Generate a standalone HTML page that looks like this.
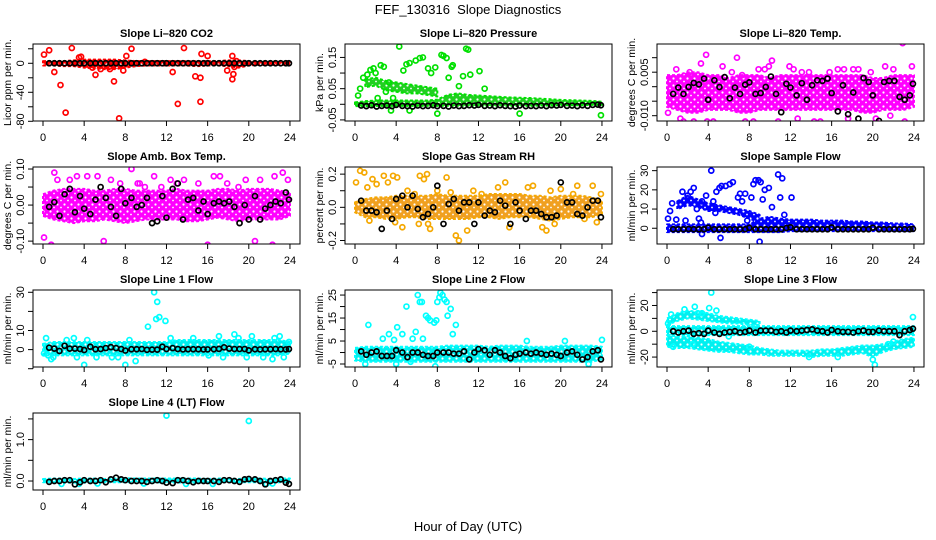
<!DOCTYPE html>
<html><head><meta charset="utf-8"><style>
html,body{margin:0;padding:0;background:#fff;}
svg{display:block;font-family:"Liberation Sans",Arial,sans-serif;}
</style></head><body>
<svg id="chart" width="936" height="540" viewBox="0 0 936 540" xmlns="http://www.w3.org/2000/svg">
<defs id="defs"></defs>
<rect x="0" y="0" width="936" height="540" fill="#fff"/>
<text x="468" y="14" font-size="13" text-anchor="middle">FEF_130316&#160; Slope Diagnostics</text>
<text x="468" y="531" font-size="13" text-anchor="middle">Hour of Day (UTC)</text>
</svg>
<script>
const bandHours=[0,1,2,3,4,5,6,7,8,9,10,11,12,13,14,15,16,17,18,19,20,21,22,23,24];
const blackHours=[0.6,1.1,1.6,2.1,2.6,3.1,3.6,4.0,4.6,5.1,5.6,6.1,6.6,7.1,7.6,8.0,8.6,9.1,9.6,10.1,10.6,11.1,11.6,12.0,12.6,13.1,13.6,14.1,14.6,15.1,15.6,16.0,16.6,17.1,17.6,18.1,18.6,19.1,19.6,20.0,20.6,21.1,21.6,22.1,22.6,23.1,23.6,23.9];
const xTicks=[0,4,8,12,16,20,24];

// CO2
const co2Lo=[-3,-3,-4,-4,-6,-7,-8,-8,-6,-4,-3,-3,-3,-3,-3,-4,-3,-3,-4,-6,-3,-2,-2,-2,-2];
const co2Hi=[3,3,3,4,5,5,5,5,4,3,3,3,3,3,3,3,3,3,4,4,3,2,2,2,2];
const co2OutX=[0.1,0.6,1.1,1.7,2.2,2.8,3.5,5.1,5.6,6.9,7.4,7.8,8.1,8.6,12.6,13.1,13.7,14.8,15.3,15.3,15.4,16.0,17.9,18.4,18.5,18.4,18.8,18.6,6.5,4.8,3.7,9.9];
const co2OutY=[12,18,-12,-30,-68,21,8,-16,-8,-25,-76,-10,10,20,-12,-56,21,-18,-20,-53,13,10,-10,-22,-15,10,3,-5,-8,-6,9,2];
const co2Blk=[0,0,0,0,0,0,0,0,0,0,0,0,0,0,0,0,0,0,0,0,0,0,0,0,0,0,0,0,0,0,0,0,0,0,0,0,0,0,0,0,0,0,0,0,0,0,0,0];

// Pressure
const prLo=[-0.006,-0.006,-0.005,-0.005,-0.005,-0.005,-0.005,-0.005,-0.005,-0.005,-0.005,-0.005,-0.005,-0.005,-0.005,-0.005,-0.005,-0.005,-0.004,-0.004,-0.003,-0.003,-0.003,-0.002,-0.002];
const prHi=[0.006,0.01,0.012,0.012,0.012,0.012,0.012,0.012,0.015,0.03,0.035,0.03,0.028,0.026,0.024,0.022,0.021,0.02,0.018,0.016,0.014,0.013,0.012,0.011,0.008];
const prLo2=[null,0.055,0.06,0.045,0.04,0.035,0.035,0.03,0.025,null,null,null,null,null,null,null,null,null,null,null,null,null,null,null,null];
const prHi2=[null,0.08,0.085,0.075,0.07,0.065,0.06,0.055,0.05,null,null,null,null,null,null,null,null,null,null,null,null,null,null,null,null];
const prOutX=[0.3,0.5,0.8,1.2,1.5,1.8,2.0,2.5,2.8,3.0,3.3,3.7,4.3,4.7,5.0,5.3,5.9,6.3,6.6,7.1,7.4,7.8,8.0,8.4,8.6,8.9,9.1,9.4,9.5,10.1,10.5,10.8,11.0,11.2,12.1,12.6,16.0,23.9,5.3,3.5,2.2];
const prOutY=[0.028,0.05,0.085,0.095,0.11,0.115,0.1,0.125,0.12,0.04,0.07,0.02,0.185,0.108,0.128,0.132,0.14,0.148,0.15,0.115,0.1,0.118,-0.03,0.158,0.155,0.148,0.085,0.12,0.125,0.058,0.09,0.178,0.175,0.095,0.106,0.05,-0.03,-0.035,-0.02,-0.02,0.02];
const prBlk=[-0.004,-0.006,-0.003,-0.007,-0.005,-0.004,-0.006,-0.002,-0.005,-0.006,-0.007,-0.004,-0.006,-0.005,-0.003,-0.006,-0.005,-0.007,-0.004,-0.006,-0.005,-0.003,-0.004,-0.002,-0.005,-0.004,-0.006,-0.003,-0.005,-0.006,-0.007,-0.004,-0.006,-0.005,-0.006,-0.004,-0.006,-0.003,-0.004,-0.002,-0.005,-0.004,-0.006,-0.003,-0.005,-0.002,-0.001,-0.003];

// Li-820 Temp
const tLo=[-0.007,-0.008,-0.009,-0.009,-0.008,-0.008,-0.008,-0.009,-0.009,-0.008,-0.008,-0.008,-0.008,-0.008,-0.008,-0.008,-0.008,-0.008,-0.008,-0.009,-0.009,-0.008,-0.008,-0.008,-0.007];
const tHi=[0.004,0.004,0.005,0.005,0.004,0.004,0.003,0.004,0.004,0.004,0.003,0.004,0.004,0.004,0.004,0.004,0.004,0.004,0.004,0.004,0.003,0.003,0.004,0.004,0.004];
const tOutX=[0.1,0.9,1.3,2.2,2.6,3.3,3.4,3.8,3.9,4.5,5.4,5.8,6.3,6.8,7.3,7.6,8.1,8.4,8.9,9.5,9.9,10.2,10.8,11.9,12.3,12.7,13.8,14.3,14.9,15.8,16.1,16.6,17.2,17.6,18.6,19.3,19.8,20.3,21.2,22.0,22.9,23.1,23.4,23.8,1.6,5.0,9.0,13.1,18.1,21.7];
const tOutY=[-0.009,0.006,-0.011,0.005,-0.012,0.008,-0.014,0.011,-0.012,-0.012,0.007,-0.013,0.005,0.01,0.004,-0.012,-0.015,-0.012,0.006,0.006,0.007,0.009,-0.012,0.007,0.006,-0.011,0.005,-0.012,-0.012,0.005,-0.015,0.006,0.006,-0.011,0.006,-0.013,0.005,-0.011,0.007,0.006,0.015,-0.012,-0.013,0.007,-0.012,-0.013,-0.013,0.005,0.006,-0.01];
const tBlk=[-0.0025,-0.0003,-0.0025,-0.0001,0.0013,0.0008,0.0028,-0.0045,0.0022,-0.0001,0.0033,-0.004,-0.0003,-0.0025,0.0007,0.0015,-0.0025,-0.0022,-0.0001,0.0035,-0.0025,-0.0088,0.001,-0.0003,-0.003,0.0012,-0.0045,0.0005,0.0022,0.002,0.0028,-0.0022,-0.0085,0.0005,-0.0095,-0.002,-0.011,0.003,0.0016,-0.003,-0.0118,0.0016,0.002,0.002,-0.0035,-0.0045,-0.003,0.001];

// Amb box temp
const aLo=[-0.03,-0.04,-0.045,-0.05,-0.045,-0.045,-0.04,-0.045,-0.05,-0.045,-0.04,-0.04,-0.04,-0.04,-0.045,-0.045,-0.04,-0.035,-0.04,-0.045,-0.04,-0.04,-0.04,-0.04,-0.03];
const aHi=[0.03,0.04,0.045,0.045,0.045,0.04,0.04,0.045,0.045,0.04,0.04,0.04,0.04,0.045,0.04,0.04,0.04,0.045,0.045,0.04,0.045,0.045,0.045,0.04,0.035];
const aOutX=[0.1,0.8,1.1,1.6,2.6,3.3,3.8,3.6,4.3,4.2,5.3,5.9,6.6,7.5,7.7,8.0,8.4,8.6,9.2,9.9,10.2,10.8,11.5,12.4,13.0,13.7,14.6,14.5,15.3,15.1,16.0,16.6,17.2,17.9,18.8,19.7,20.6,21.1,21.5,22.3,22.5,23.3,23.5,23.8,1.4,6.0,9.4,19.0];
const aOutY=[-0.09,-0.11,0.09,-0.13,0.07,0.08,-0.13,-0.17,0.08,-0.2,0.08,-0.1,0.07,0.06,-0.15,-0.17,-0.16,0.1,0.06,0.05,-0.13,0.08,0.05,0.07,0.06,0.07,-0.13,-0.2,-0.15,0.06,-0.11,0.08,0.08,0.06,-0.13,0.07,-0.1,0.07,-0.14,-0.11,0.08,0.09,-0.16,0.07,0.07,-0.12,0.06,0.05];
const aBlk=[-0.005,0.008,-0.03,0.03,0.045,-0.02,0.025,-0.01,-0.025,0.015,0.05,0.02,-0.005,-0.03,0.045,0.005,0.02,-0.005,0.0,0.02,-0.05,-0.045,0.025,-0.035,0.045,0.06,-0.04,0.015,0.02,-0.015,0.01,-0.025,0.005,0.01,0.005,0.01,-0.005,-0.05,0.0,-0.04,0.025,-0.04,-0.01,0.0,0.01,0.005,0.035,0.015];

// Gas stream RH
const rLo=[-0.03,-0.06,-0.06,-0.07,-0.07,-0.06,-0.06,-0.07,-0.07,-0.07,-0.07,-0.07,-0.06,-0.06,-0.07,-0.06,-0.06,-0.06,-0.07,-0.08,-0.07,-0.06,-0.06,-0.06,-0.04];
const rHi=[0.03,0.05,0.06,0.06,0.07,0.07,0.07,0.07,0.08,0.07,0.07,0.07,0.07,0.08,0.08,0.08,0.08,0.07,0.07,0.06,0.07,0.07,0.07,0.06,0.04];
const rOutX=[0.1,0.5,0.9,1.2,1.7,2.1,2.8,3.2,3.7,4.1,3.9,4.6,5.1,5.8,6.3,6.7,7.0,7.3,7.1,8.9,9.3,9.8,10.1,10.9,11.5,12.3,13.9,14.6,15.0,16.8,17.3,18.2,18.6,19.0,19.4,20.0,21.2,21.6,22.3,23.1,23.5,23.9,1.4,6.2,8.0];
const rOutY=[0.15,0.22,0.21,0.12,0.17,0.14,0.19,0.15,0.19,0.18,-0.09,-0.12,0.1,0.08,0.19,0.17,0.2,-0.13,-0.1,0.18,0.09,-0.17,-0.2,-0.14,0.1,0.08,0.12,0.15,-0.12,0.12,0.13,-0.12,-0.14,0.1,-0.1,0.11,0.08,0.13,-0.07,0.13,-0.09,0.08,-0.08,-0.1,0.1];
const rBlk=[0.04,-0.02,-0.02,-0.03,-0.13,-0.02,-0.07,0.05,0.07,0.0,0.07,-0.01,-0.06,-0.04,0.0,0.13,-0.1,0.02,0.05,-0.02,0.03,0.03,-0.1,0.03,-0.05,-0.02,-0.03,0.04,0.01,-0.1,0.03,-0.02,-0.07,-0.02,-0.02,-0.04,-0.06,-0.06,-0.05,0.15,0.03,0.03,-0.04,-0.05,0.0,0.04,0.04,-0.06];

// Sample flow
const sLo=[-2,-2,-2,-2,-2,-2,-2,-2,-2,-2,-2,-2,-1.5,-1.5,-1.5,-1.5,-1.5,-1.5,-1.5,-1.5,-1.5,-1.5,-1.5,-1.5,-1.5];
const sHi=[2,2,2,2,2,2,2,2,2,5,6,5,4.5,4.5,4.5,4,4,4,3.5,3.5,3,3,2.5,2.5,2];
const sLo2=[null,10,12,11,9,9,8,7,5,3,null,null,null,null,null,null,null,null,null,null,null,null,null,null,null];
const sHi2=[null,14,17,15,13,12,11,10,9,7,null,null,null,null,null,null,null,null,null,null,null,null,null,null,null];
const sOutX=[0.1,0.3,0.5,0.9,1.5,1.8,2.0,2.3,2.6,2.9,3.1,3.4,3.4,3.8,4.3,4.5,4.8,5.1,5.3,5.7,6.1,6.4,6.9,7.1,7.3,7.6,7.8,8.2,8.4,8.6,8.9,9.1,9.3,9.5,9.9,10.2,10.8,11.0,11.2,11.4,12.1,3.3,5.2,9.0,4.7];
const sOutY=[5,9,13,4.5,19,4,17,19,21,10,5,14,-3,17,30,14,19,21,22,22,23,24,16,18,14,18,4,16,23,25,25,24,15,20,21,11,28,16,26,7,16,3,-5,-7,8];
const sBlk=[-0.5,-0.5,-0.5,-0.4,-0.5,-0.5,-0.5,0.3,-0.5,-0.5,-0.5,-0.5,-0.5,-0.5,-0.5,0.2,-0.5,-0.5,-0.5,-0.5,-0.5,-0.5,0.1,0.5,-0.5,-0.5,-0.5,-0.5,-0.5,-0.5,-0.5,0.4,-0.5,-0.5,-0.5,-0.5,-0.5,-0.5,-0.5,0.3,-0.5,-0.5,-0.5,-0.5,-0.5,-0.5,-0.5,-0.3];

// Line 1 flow
const l1Lo=[-3,-3,-3,-3,-3,-3,-3,-3,-3,-3,-3,-3,-3,-3,-3,-3,-3,-3,-3,-3,-3,-3,-3,-3,-2];
const l1Hi=[3,4,4,4,4,4,4,4,4,4,4,4,4,5,5,5,5,5,5,5,5,5,5,5,4];
const l1OutX=[0.1,0.3,0.8,1.0,2.3,3.0,3.3,4.0,4.3,5.2,6.7,8.0,8.4,9.0,10.2,10.8,11.1,11.0,11.3,11.9,12.4,14.6,16.1,17.1,17.5,18.6,19.0,19.8,20.3,21.4,22.3,22.5,23.0,23.4,23.9,7.3,0.5];
const l1OutY=[-2,6,-5,-4,5,6,-4,-8,5,-4,-4,-8,5,-6,12,30,25,16,17,15,6,6,-3,7,-4,8,6,-4,7,-4,-5,6,7,-4,4,-4,-3];
const l1Blk=[1,0.5,-0.7,2,0.5,0.5,0.3,-0.2,1.5,0.2,0.3,0.8,1.3,0.8,0.3,-0.5,0.2,0.2,0.3,-0.1,0,0,1.5,0.3,0.8,0.3,0.1,0.2,0.2,0.2,0.1,0.1,0.2,0.4,1.2,0.5,0.3,0.3,0.3,-0.4,0.2,0.1,0.2,0.2,0.3,0.2,0.1,0.3];

// Line 2 flow
const l2Lo=[-3.5,-4,-4,-4,-4,-4,-4,-4,-4,-4,-4,-4,-4,-4,-4,-4,-4,-4,-4,-4,-4,-4,-4,-4,-3];
const l2Hi=[2,2.5,2.5,2.5,2.5,2.5,2.5,2.5,2.5,3,3,3,3,2.5,3,3,3,2.5,2.5,2.5,3,3,3,3,2.5];
const l2OutX=[1.3,2.7,3.3,3.8,4.1,4.6,5.0,5.6,5.9,6.1,6.3,6.5,6.6,6.9,7.1,7.3,7.7,7.9,8.0,8.2,8.3,8.5,8.7,8.9,9.0,9.3,9.5,9.8,7.8,4.0,1.0,22.7,24.0,5.4,16.7,20.4];
const l2OutY=[12,6,8,5.5,11,8,20,6,9,25,22,22,6,16,15,14,13,14,22,24,26,25,23,22,16,19,8,12,-6,-5,-5,-5,5.5,-4,5,5];
const l2Blk=[0.5,-1,0,0.5,-1.5,-1.5,-1.5,1,0,-2,0,0,-1,-1.5,-1.5,0,0,0,-0.5,-0.5,0.5,-3,0,1.5,1,-1,1,0,-1.5,-2.5,-1,-0.5,0,-0.5,0,-0.5,-1,-0.5,-1,-1.5,0,0.5,-1,-3,-2,0.5,1,-3];

// Line 3 flow
const l3Lo=[-3,-3,-3,-3,-3,-3,-3,-3,-3,-3,-3,-3,-3,-3,-3,-3,-3,-3,-3,-3,-3,-3,-3,-3,-3];
const l3Hi=[4,4,4,4,4,4,4,4,4,4,4,4,4,4,4,4,4,4,4,4,4,4,4,4,4];
const l3Lo2=[5,8,10,9,8,7,6,6,5,5,null,null,null,null,null,null,null,null,null,null,null,null,null,null,null];
const l3Hi2=[10,14,16,15,14,12,11,10,9,8,null,null,null,null,null,null,null,null,null,null,null,null,null,null,null];
const l3Lo3=[-12,-13,-13,-14,-15,-16,-16,-17,-18,-18,-19,-19,-19,-19,-20,-19,-19,-19,-18,-17,-20,-16,-14,-13,-12];
const l3Hi3=[-3,-4,-4,-5,-6,-8,-9,-10,-11,-13,-14,-15,-15,-15,-15,-14,-14,-13,-12,-11,-11,-10,-8,-6,-5];
const l3OutX=[0.1,0.4,1.7,2.7,3.0,3.4,4.3,4.1,4.8,0.6,8.0,13.8,16.6,20.0,20.2,21.5,22.0,23.9,2.5,6.0];
const l3OutY=[6,13,17,19,14,14,30,18,16,-12,-12,-20,-20,-22,-26,-10,-8,11,-10,-4];
const l3Blk=[0,-1,0,0.5,-2,-1.5,-2,0.5,-1,-2,-1,-0.5,0,-1,-0.5,0.5,-1,0.5,0.5,0.5,-0.5,0,-1,0.5,0,0.5,1,1.5,0.5,0,-1,1,0,-0.5,-0.5,-1,0,0.5,-0.5,-0.5,0.5,0,0,0,-3,0,1,2];

// Line 4 flow
const l4Lo=[-0.03,-0.03,-0.04,-0.04,-0.04,-0.03,-0.03,-0.03,-0.03,-0.03,-0.03,-0.03,-0.04,-0.04,-0.04,-0.04,-0.04,-0.03,-0.03,-0.03,-0.03,-0.03,-0.04,-0.03,-0.03];
const l4Hi=[0.05,0.06,0.06,0.05,0.06,0.06,0.05,0.06,0.07,0.06,0.06,0.06,0.06,0.06,0.06,0.06,0.05,0.06,0.06,0.05,0.07,0.06,0.05,0.06,0.06];
const l4OutX=[12.0,20.0,1.8,3.5,5.3,9.8,13.9,16.5,21.7,22.3];
const l4OutY=[1.58,1.45,-0.07,-0.07,-0.06,-0.06,-0.07,-0.07,-0.07,-0.06];
const l4Blk=[-0.02,0.0,0.0,0.02,0.02,-0.08,-0.03,0.02,0.0,0.0,0.02,-0.03,0.04,0.08,0.04,0.02,0.0,0.0,0.0,-0.02,0.0,0.02,0.0,-0.04,-0.05,0.02,0.02,0.0,-0.03,0.0,0.0,0.0,0.0,-0.02,0.02,0.02,0.0,-0.02,0.04,0.05,0.04,0.0,-0.08,0.0,0.02,0.04,-0.04,-0.07];

const panels=[
 {id:'co2',title:'Slope Li\u2013820 CO2',ylab:'Licor ppm per min.',col:0,row:0,ymin:-79.6,ymax:26.6,ticks:[-80,-60,-40,-20,0,20],labels:['-80','','-40','','0',''],color:'#ff0000',fill:'#ff0000',lo:co2Lo,hi:co2Hi,ox:co2OutX,oy:co2OutY,blk:co2Blk},
 {id:'pressure',title:'Slope Li\u2013820 Pressure',ylab:'kPa per min.',col:1,row:0,ymin:-0.0535,ymax:0.193,ticks:[-0.05,0,0.05,0.1,0.15],labels:['-0.05','','0.05','','0.15'],color:'#00e000',fill:'#20d020',lo:prLo,hi:prHi,lo2:prLo2,hi2:prHi2,ox:prOutX,oy:prOutY,blk:prBlk},
 {id:'li820-temp',title:'Slope Li\u2013820 Temp.',ylab:'degrees C per min.',col:2,row:0,ymin:-0.01183,ymax:0.01472,ticks:[-0.01,-0.005,0,0.005,0.01],labels:['-0.010','','','0.005',''],color:'#ff00ff',fill:'#ff00ff',lo:tLo,hi:tHi,ox:tOutX,oy:tOutY,blk:tBlk},
 {id:'amb-box-temp',title:'Slope Amb. Box Temp.',ylab:'degrees C per min.',col:0,row:1,ymin:-0.108,ymax:0.1056,ticks:[-0.1,-0.05,0,0.05,0.1],labels:['-0.10','','0.00','','0.10'],color:'#ff00ff',fill:'#ff00ff',lo:aLo,hi:aHi,ox:aOutX,oy:aOutY,blk:aBlk},
 {id:'gas-stream-rh',title:'Slope Gas Stream RH',ylab:'percent per min.',col:1,row:1,ymin:-0.221,ymax:0.243,ticks:[-0.2,-0.1,0,0.1,0.2],labels:['-0.2','','0.0','','0.2'],color:'#f5a800',fill:'#f0a020',lo:rLo,hi:rHi,ox:rOutX,oy:rOutY,blk:rBlk},
 {id:'sample-flow',title:'Slope Sample Flow',ylab:'ml/min per min.',col:2,row:1,ymin:-8.2,ymax:31.9,ticks:[0,10,20,30],labels:['0','10','20','30'],color:'#0000ff',fill:'#0000ff',lo:sLo,hi:sHi,lo2:sLo2,hi2:sHi2,ox:sOutX,oy:sOutY,blk:sBlk},
 {id:'line1-flow',title:'Slope Line 1 Flow',ylab:'ml/min per min.',col:0,row:2,ymin:-9.1,ymax:31.2,ticks:[-10,0,10,20,30],labels:['','0','10','','30'],color:'#00ffff',fill:'#00f0f0',lo:l1Lo,hi:l1Hi,ox:l1OutX,oy:l1OutY,blk:l1Blk},
 {id:'line2-flow',title:'Slope Line 2 Flow',ylab:'ml/min per min.',col:1,row:2,ymin:-6.3,ymax:27.2,ticks:[-5,0,5,10,15,20,25],labels:['-5','','5','','15','','25'],color:'#00ffff',fill:'#00f0f0',lo:l2Lo,hi:l2Hi,ox:l2OutX,oy:l2OutY,blk:l2Blk},
 {id:'line3-flow',title:'Slope Line 3 Flow',ylab:'ml/min per min.',col:2,row:2,ymin:-27.7,ymax:32,ticks:[-20,-10,0,10,20,30],labels:['-20','','0','','20',''],color:'#00ffff',fill:'#00f0f0',lo:l3Lo,hi:l3Hi,lo2:l3Lo2,hi2:l3Hi2,lo3:l3Lo3,hi3:l3Hi3,ox:l3OutX,oy:l3OutY,blk:l3Blk},
 {id:'line4-flow',title:'Slope Line 4 (LT) Flow',ylab:'ml/min per min.',col:0,row:3,ymin:-0.217,ymax:1.643,ticks:[0,0.5,1,1.5],labels:['0.0','','1.0',''],color:'#00ffff',fill:'#00f0f0',lo:l4Lo,hi:l4Hi,ox:l4OutX,oy:l4OutY,blk:l4Blk}
];

const NS='http://www.w3.org/2000/svg';
const svg=document.getElementById('chart');
const defs=document.getElementById('defs');
function mk(tag,attrs,parent){const e=document.createElementNS(NS,tag);for(const k in attrs)e.setAttribute(k,attrs[k]);(parent||svg).appendChild(e);return e;}

panels.forEach(p=>{
  const L=33+312*p.col, W=267, T=44+123*p.row, H=77, B=T+H;
  const xs=h=>L+10+h*10.29;
  const ys=v=>B-(v-p.ymin)/(p.ymax-p.ymin)*H;
  const patId='pat-'+p.id;
  const pat=mk('pattern',{id:patId,width:7,height:7,patternUnits:'userSpaceOnUse'},defs);
  mk('rect',{x:0,y:0,width:7,height:7,fill:p.fill},pat);
  mk('circle',{cx:1.5,cy:1.5,r:1.1,fill:'#fff'},pat);
  mk('circle',{cx:5,cy:4.5,r:0.9,fill:'#fff'},pat);
  const g=mk('g',{});
  
  
  const clipId='clip-'+p.id;
  const cp=mk('clipPath',{id:clipId},g);
  mk('rect',{x:L,y:T,width:W,height:H},cp);
  const plot=mk('g',{'clip-path':'url(#'+clipId+')'},g);
  
  
  [['lo','hi'],['lo2','hi2'],['lo3','hi3']].forEach(([a,b])=>{
    if(!p[a])return;
    const idx=bandHours.map((h,i)=>i).filter(i=>p[a][i]!==null);
    if(!idx.length)return;
    let d='M'+idx.map(i=>xs(bandHours[i])+','+ys(p[b][i])).join('L');
    d+='L'+idx.slice().reverse().map(i=>xs(bandHours[i])+','+ys(p[a][i])).join('L')+'Z';
    const band=mk('path',{d:d,fill:'url(#'+patId+')',stroke:p.color,'stroke-width':2,'stroke-dasharray':'3 2','stroke-linejoin':'round'},plot);
    
    
  });
  p.ox.forEach((h,i)=>{
    const c=mk('circle',{cx:xs(h),cy:ys(p.oy[i]),r:2.5,fill:'none',stroke:p.color,'stroke-width':1.7},plot);
    
    
  });
  blackHours.forEach((h,i)=>{
    const c=mk('circle',{cx:xs(h),cy:ys(p.blk[i]),r:2.5,fill:'none',stroke:'#000','stroke-width':1.7},plot);
    
    
  });
  const box=mk('rect',{x:L,y:T,width:W,height:H,fill:'none',stroke:'#000','stroke-width':1},g);
  
  
  mk('line',{x1:xs(0),x2:xs(24),y1:B,y2:B,stroke:'#000'},g);
  xTicks.forEach(t=>{
    mk('line',{x1:xs(t),x2:xs(t),y1:B,y2:B+5,stroke:'#000'},g);
    const tx=mk('text',{x:xs(t),y:B+20,'font-size':11,'text-anchor':'middle'},g);
    tx.textContent=t;
    
    
  });
  mk('line',{x1:L,x2:L,y1:ys(p.ticks[0]),y2:ys(p.ticks[p.ticks.length-1]),stroke:'#000'},g);
  p.ticks.forEach((t,i)=>{
    const y=ys(t);
    mk('line',{x1:L-5,x2:L,y1:y,y2:y,stroke:'#000'},g);
    if(p.labels[i]){
      const tx=mk('text',{x:L-9,y:y,'font-size':11,'text-anchor':'middle',transform:'rotate(-90 '+(L-9)+' '+y+')'},g);
      tx.textContent=p.labels[i];
      
      
    }
  });
  const yt=mk('text',{x:L-22,y:T+H/2,'font-size':10.5,'text-anchor':'middle',transform:'rotate(-90 '+(L-22)+' '+(T+H/2)+')'},g);
  yt.textContent=p.ylab;
  
  
  const ti=mk('text',{x:L+W/2,y:T-7,'font-size':11,'font-weight':'bold','text-anchor':'middle'},g);
  ti.textContent=p.title;
  
  
});
</script>
</body></html>
